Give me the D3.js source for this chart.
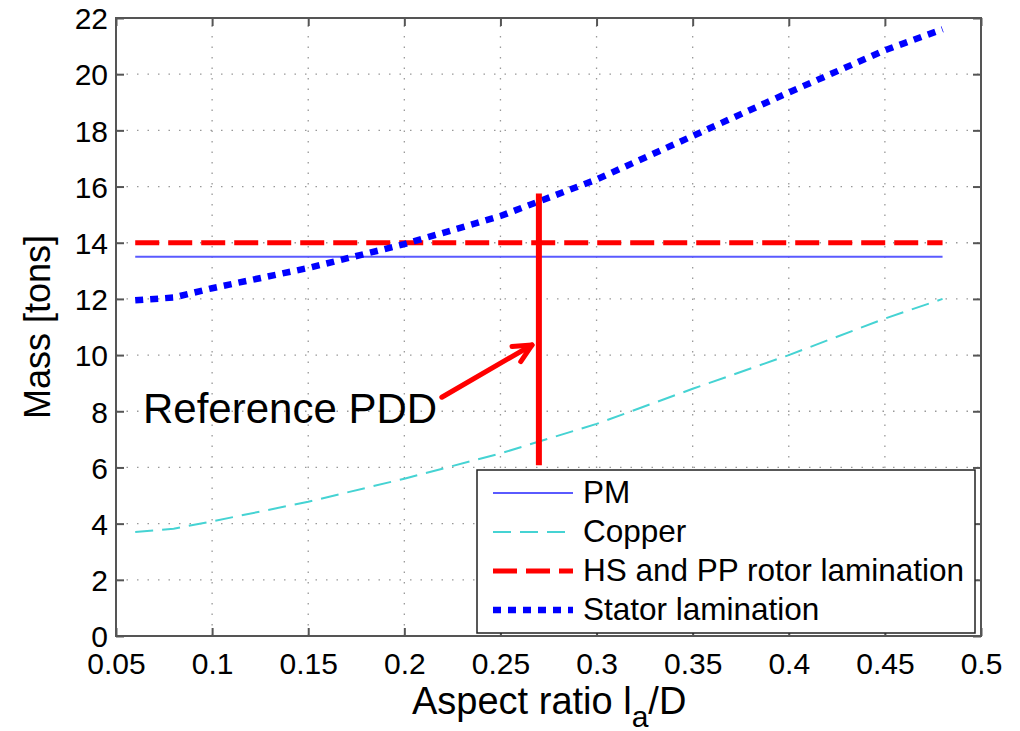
<!DOCTYPE html>
<html>
<head>
<meta charset="utf-8">
<script src="https://cdn.jsdelivr.net/npm/d3@7"></script>
<style>
  body { margin: 0; background: #fff; }
  text { font-family: "Liberation Sans", Arial, sans-serif; fill: #000; }
</style>
</head>
<body>
<div id="chart"></div>
<script>
// aspect ratio values along the x axis
var ratio = [0.06, 0.08, 0.1, 0.15, 0.2, 0.25, 0.3, 0.35, 0.4, 0.45, 0.48];
// mass in tons for each series
var pmMass = [13.5, 13.5, 13.5, 13.5, 13.5, 13.5, 13.5, 13.5, 13.5, 13.5, 13.5];
var copperMass = [3.7, 3.82, 4.08, 4.78, 5.6, 6.5, 7.55, 8.8, 10.0, 11.3, 12.0];
var rotorMass = [14, 14, 14, 14, 14, 14, 14, 14, 14, 14, 14];
var statorMass = [11.95, 12.05, 12.38, 13.1, 13.95, 14.95, 16.25, 17.8, 19.35, 20.85, 21.6];

var xTicks = [0.05, 0.1, 0.15, 0.2, 0.25, 0.3, 0.35, 0.4, 0.45, 0.5];
var yTicks = [0, 2, 4, 6, 8, 10, 12, 14, 16, 18, 20, 22];
var seriesNames = ["PM", "Copper", "HS and PP rotor lamination", "Stator lamination"];

// reference design marker and arrow (data coords)
var refLine = [[0.27, 6.08], [0.27, 15.75]];
var arrowFrom = [0.2195, 8.5];
var arrowTo = [0.2664, 10.36];

var width = 1020, height = 731;
var margin = { top: 18, right: 39, bottom: 95, left: 116 };

var svg = d3.select("#chart").append("svg")
    .attr("width", width)
    .attr("height", height);

var x = d3.scaleLinear()
    .domain([0.05, 0.5])
    .range([margin.left, width - margin.right]);
var y = d3.scaleLinear()
    .domain([0, 22])
    .range([height - margin.bottom, margin.top]);

var x0 = x.range()[0], x1 = x.range()[1];
var y0 = y.range()[0], y1 = y.range()[1];

// dotted grid
var grid = svg.append("g");
grid.selectAll(".gx").data(xTicks.slice(1, -1)).enter().append("line")
    .attr("x1", d => x(d)).attr("x2", d => x(d))
    .attr("y1", y0).attr("y2", y1)
    .attr("stroke", "#999").attr("stroke-width", 1.3)
    .attr("stroke-dasharray", "1.5,9");
grid.selectAll(".gy").data(yTicks.slice(1, -1)).enter().append("line")
    .attr("x1", x0).attr("x2", x1)
    .attr("y1", d => y(d)).attr("y2", d => y(d))
    .attr("stroke", "#999").attr("stroke-width", 1.3)
    .attr("stroke-dasharray", "1.5,9");

// axes with inward ticks on all sides
svg.append("g").attr("transform", "translate(0," + y0 + ")")
    .call(d3.axisBottom(x).tickValues(xTicks).tickSize(-8).tickFormat(d3.format("")))
    .call(g => g.select(".domain").remove())
    .call(g => g.selectAll(".tick line").attr("stroke", "#555").attr("stroke-width", 2))
    .call(g => g.selectAll(".tick text").attr("y", 0).attr("dy", 38)
        .style("font-size", "30px").attr("fill", "#000"));
svg.append("g").attr("transform", "translate(0," + y1 + ")")
    .call(d3.axisTop(x).tickValues(xTicks).tickSize(-8).tickFormat(""))
    .call(g => g.select(".domain").remove())
    .call(g => g.selectAll(".tick line").attr("stroke", "#555").attr("stroke-width", 2));
svg.append("g").attr("transform", "translate(" + x0 + ",0)")
    .call(d3.axisLeft(y).tickValues(yTicks).tickSize(-8).tickFormat(d3.format("d")))
    .call(g => g.select(".domain").remove())
    .call(g => g.selectAll(".tick line").attr("stroke", "#555").attr("stroke-width", 2))
    .call(g => g.selectAll(".tick text").attr("x", -8).attr("dy", "0.36em")
        .style("font-size", "30px").attr("fill", "#000"));
svg.append("g").attr("transform", "translate(" + x1 + ",0)")
    .call(d3.axisRight(y).tickValues(yTicks).tickSize(-8).tickFormat(""))
    .call(g => g.select(".domain").remove())
    .call(g => g.selectAll(".tick line").attr("stroke", "#555").attr("stroke-width", 2));

svg.append("rect")
    .attr("x", x0).attr("y", y1)
    .attr("width", x1 - x0).attr("height", y0 - y1)
    .attr("fill", "none").attr("stroke", "#555").attr("stroke-width", 2);

// series lines
var styles = [
    { vals: pmMass, color: "#5a5aff", w: 2, dash: null },
    { vals: copperMass, color: "#45d3d3", w: 2, dash: "18,9" },
    { vals: rotorMass, color: "#ff0000", w: 5, dash: "24,9" },
    { vals: statorMass, color: "#0000ff", w: 6.5, dash: "8,7" }
];

var line = d3.line()
    .x(d => x(d[0]))
    .y(d => y(d[1]));

styles.forEach(s => {
    svg.append("path")
        .datum(ratio.map((r, i) => [r, s.vals[i]]))
        .attr("d", line)
        .attr("fill", "none")
        .attr("stroke", s.color)
        .attr("stroke-width", s.w)
        .attr("stroke-dasharray", s.dash);
});

// reference PDD marker
svg.append("path")
    .datum(refLine)
    .attr("d", line)
    .attr("stroke", "#ff0000")
    .attr("stroke-width", 6)
    .attr("fill", "none");

var ax0 = x(arrowFrom[0]), ay0 = y(arrowFrom[1]);
var ax1 = x(arrowTo[0]), ay1 = y(arrowTo[1]);
var ang = Math.atan2(ay1 - ay0, ax1 - ax0);
var head = 20;
svg.append("line")
    .attr("x1", ax0).attr("y1", ay0).attr("x2", ax1).attr("y2", ay1)
    .attr("stroke", "#ff0000").attr("stroke-width", 5).attr("stroke-linecap", "round");
svg.append("path")
    .attr("d", "M" + (ax1 - head * Math.cos(ang - 0.45)) + "," + (ay1 - head * Math.sin(ang - 0.45)) +
        "L" + ax1 + "," + ay1 +
        "L" + (ax1 - head * Math.cos(ang + 0.45)) + "," + (ay1 - head * Math.sin(ang + 0.45)))
    .attr("fill", "none").attr("stroke", "#ff0000").attr("stroke-width", 5)
    .attr("stroke-linecap", "round").attr("stroke-linejoin", "round");

svg.append("text")
    .attr("x", 143).attr("y", 423)
    .style("font-size", "42px")
    .text("Reference PDD");

// legend
var legend = svg.append("g");
legend.append("rect")
    .attr("x", 477).attr("y", 470).attr("width", 498).attr("height", 163)
    .attr("fill", "#fff").attr("stroke", "#222").attr("stroke-width", 1.5);
styles.forEach((s, i) => {
    var ly = 493 + i * 39;
    legend.append("line")
        .attr("x1", 493).attr("x2", 573).attr("y1", ly).attr("y2", ly)
        .attr("stroke", s.color).attr("stroke-width", s.w)
        .attr("stroke-dasharray", s.dash);
    legend.append("text")
        .attr("x", 583).attr("y", ly + 10)
        .style("font-size", "31.5px")
        .text(seriesNames[i]);
});

// axis titles
svg.append("text")
    .attr("transform", "translate(50," + 327 + ") rotate(-90)")
    .attr("text-anchor", "middle")
    .style("font-size", "36px")
    .text("Mass [tons]");

var xl = svg.append("text")
    .attr("x", 412).attr("y", 714)
    .style("font-size", "38px");
xl.append("tspan").text("Aspect ratio l");
xl.append("tspan").attr("dy", 13).style("font-size", "30px").text("a");
xl.append("tspan").attr("dy", -13).text("/D");
</script>
</body>
</html>
